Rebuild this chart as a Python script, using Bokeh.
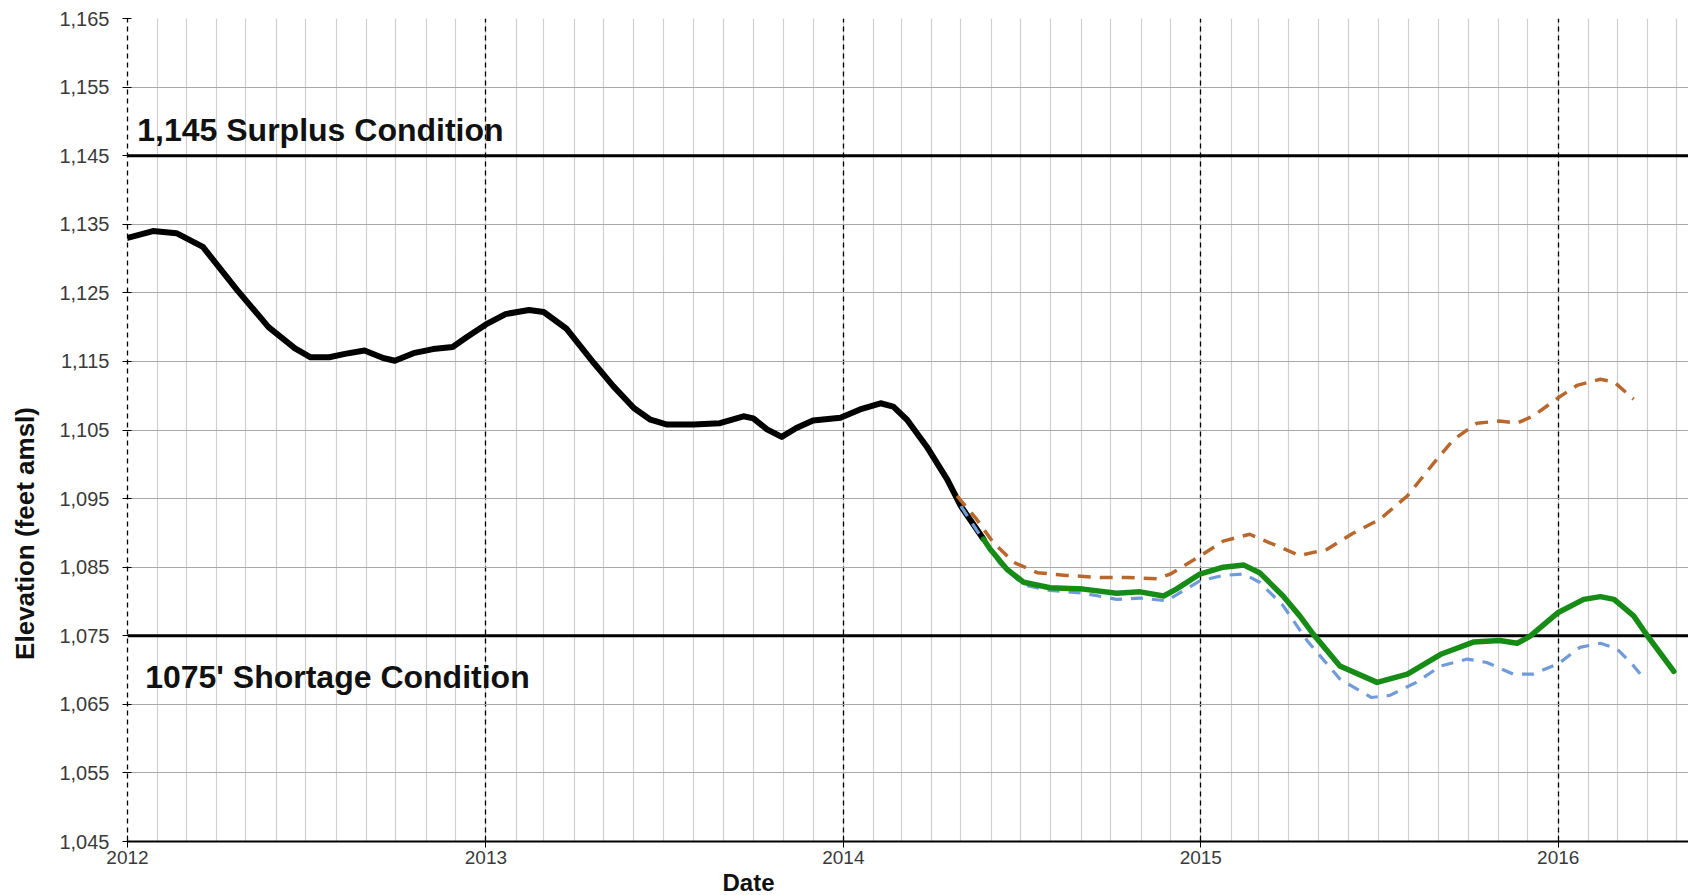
import math
import pandas as pd
from bokeh.plotting import figure
from bokeh.layouts import row
from bokeh.models import (Range1d, FixedTicker, NumeralTickFormatter, Span, Label, Title,
                          Grid, MonthsTicker, DatetimeTickFormatter, ColumnDataSource)
from bokeh.embed import file_html
from bokeh.resources import INLINE

# ---------------- data ----------------
y_ticks = [1045, 1055, 1065, 1075, 1085, 1095, 1105, 1115, 1125, 1135, 1145, 1155, 1165]
year_ticks = ["2012-01-01", "2013-01-01", "2014-01-01", "2015-01-01", "2016-01-01"]
surplus_level = 1145
shortage_level = 1075

obs_dates = ["2012-01-01", "2012-01-27", "2012-02-20", "2012-03-18", "2012-04-22", "2012-05-24",
             "2012-06-20", "2012-07-06", "2012-07-25", "2012-08-10", "2012-08-30", "2012-09-18",
             "2012-09-30", "2012-10-19", "2012-11-08", "2012-11-28", "2012-12-13", "2013-01-01",
             "2013-01-21", "2013-02-14", "2013-03-01", "2013-03-24", "2013-04-21", "2013-05-11",
             "2013-06-01", "2013-06-18", "2013-07-05", "2013-08-01", "2013-08-28", "2013-09-21",
             "2013-10-01", "2013-10-15", "2013-10-30", "2013-11-14", "2013-12-01", "2013-12-29",
             "2014-01-18", "2014-02-08", "2014-02-21", "2014-03-07", "2014-03-27", "2014-04-17",
             "2014-05-01", "2014-05-24"]
obs_vals = [1133.0, 1134.0, 1133.7, 1131.7, 1125.4, 1120.0, 1116.9, 1115.6, 1115.6, 1116.1,
            1116.6, 1115.5, 1115.1, 1116.2, 1116.8, 1117.1, 1118.6, 1120.4, 1121.9, 1122.5,
            1122.2, 1119.8, 1114.8, 1111.4, 1108.2, 1106.5, 1105.8, 1105.8, 1106.0, 1107.0,
            1106.7, 1105.1, 1104.0, 1105.3, 1106.4, 1106.8, 1108.0, 1108.9, 1108.4, 1106.5,
            1102.6, 1097.8, 1093.9, 1089.1]

most_dates = ["2014-05-24", "2014-05-31", "2014-06-17", "2014-07-04", "2014-07-31", "2014-09-03",
              "2014-10-07", "2014-10-31", "2014-11-24", "2014-12-07", "2014-12-31", "2015-01-24",
              "2015-02-14", "2015-03-02", "2015-03-26", "2015-04-12", "2015-04-26", "2015-05-23",
              "2015-06-30", "2015-07-31", "2015-09-03", "2015-10-07", "2015-11-02", "2015-11-20",
              "2015-12-03", "2016-01-01", "2016-01-27", "2016-02-13", "2016-02-27", "2016-03-18",
              "2016-04-01", "2016-04-28"]
most_vals = [1089.1, 1087.6, 1084.7, 1082.8, 1082.0, 1081.8, 1081.2, 1081.4, 1080.8, 1081.8,
             1084.0, 1085.0, 1085.3, 1084.2, 1080.8, 1077.9, 1075.2, 1070.6, 1068.2, 1069.4,
             1072.3, 1074.1, 1074.3, 1073.9, 1074.9, 1078.4, 1080.3, 1080.7, 1080.3, 1077.9,
             1075.0, 1069.8]

min_dates = ["2014-05-01", "2014-05-24", "2014-06-10", "2014-07-04", "2014-07-31", "2014-09-03",
             "2014-10-07", "2014-10-31", "2014-11-27", "2014-12-31", "2015-01-24", "2015-02-14",
             "2015-03-02", "2015-03-26", "2015-04-20", "2015-05-23", "2015-06-24", "2015-07-13",
             "2015-08-09", "2015-09-03", "2015-09-30", "2015-10-20", "2015-11-16", "2015-12-06",
             "2016-01-01", "2016-01-23", "2016-02-13", "2016-03-01", "2016-03-18", "2016-03-30"]
min_vals = [1093.9, 1088.9, 1085.5, 1082.4, 1081.6, 1081.2, 1080.3, 1080.5, 1080.1, 1083.0,
            1083.8, 1084.0, 1082.8, 1079.4, 1074.2, 1068.7, 1066.0, 1066.3, 1068.2, 1070.6,
            1071.6, 1071.1, 1069.4, 1069.4, 1070.9, 1073.3, 1073.9, 1073.1, 1070.6, 1068.5]

max_dates = ["2014-04-27", "2014-05-17", "2014-06-03", "2014-06-24", "2014-07-18", "2014-08-17",
             "2014-09-20", "2014-10-18", "2014-11-17", "2014-12-01", "2014-12-31", "2015-01-24",
             "2015-02-20", "2015-03-23", "2015-04-12", "2015-05-10", "2015-06-05", "2015-07-03",
             "2015-07-31", "2015-08-27", "2015-09-16", "2015-10-10", "2015-11-02", "2015-11-20",
             "2015-12-06", "2016-01-01", "2016-01-20", "2016-02-13", "2016-02-27", "2016-03-18"]
max_vals = [1095.4, 1092.0, 1088.6, 1085.7, 1084.2, 1083.8, 1083.5, 1083.5, 1083.3, 1084.0,
            1086.6, 1088.8, 1089.8, 1087.9, 1086.7, 1087.6, 1089.9, 1092.0, 1095.4, 1100.2,
            1103.6, 1106.0, 1106.3, 1106.0, 1107.0, 1109.7, 1111.5, 1112.4, 1112.0, 1109.5]

# ---------------- figure ----------------
FONT = "Liberation Sans"
x_start = pd.Timestamp("2012-01-01")
x_end = pd.Timestamp("2016-05-13")
TITLE_W = 50

# narrow strip holding the rotated y-axis title
side = figure(width=TITLE_W, height=895, output_backend="svg", toolbar_location=None,
              x_range=Range1d(0, TITLE_W), y_range=Range1d(0, 895),
              min_border=0, x_axis_location=None, y_axis_location=None)
side.outline_line_color = None
side.xgrid.visible = False
side.ygrid.visible = False
side.add_layout(Label(x=24, y=335, angle=math.pi / 2, text="Elevation (feet amsl)",
                      text_font=FONT, text_font_style="bold", text_font_size="26px",
                      text_color="#111111", text_align="center", text_baseline="middle"))

p = figure(width=1688 - TITLE_W, height=895, output_backend="svg", toolbar_location=None,
           x_axis_type="datetime",
           x_range=Range1d(x_start, x_end), y_range=Range1d(1045, 1165),
           min_border_left=127 - TITLE_W, min_border_right=0, min_border_top=18,
           min_border_bottom=5)
p.outline_line_color = None
p.background_fill_color = "white"
p.border_fill_color = "white"

# y axis (its line doubles as the dashed 2012 year line)
p.yaxis.ticker = FixedTicker(ticks=y_ticks)
p.yaxis.formatter = NumeralTickFormatter(format="0,0")
p.yaxis.axis_line_color = "black"
p.yaxis.axis_line_dash = "5 4"
p.yaxis.axis_line_width = 1.3
p.yaxis.major_tick_in = 4
p.yaxis.major_tick_out = 5
p.yaxis.major_tick_line_color = "black"
p.yaxis.major_tick_line_width = 1.2
p.yaxis.minor_tick_line_color = None
p.yaxis.major_label_standoff = 13
p.yaxis.major_label_text_font = FONT
p.yaxis.major_label_text_font_size = "20px"
p.yaxis.major_label_text_color = "#3a3a3a"
p.ygrid.grid_line_color = "#a8a8a8"
p.ygrid.grid_line_width = 1.2

# x axis (year ticks, dashed yearly gridlines)
year_ms = [pd.Timestamp(d).value / 1e6 for d in year_ticks]
p.xaxis.ticker = FixedTicker(ticks=year_ms)
p.xaxis.formatter = DatetimeTickFormatter(years="%Y", months="%Y", days="%Y", hours="%Y")
p.xaxis.axis_line_color = "black"
p.xaxis.axis_line_width = 2
p.xaxis.major_tick_in = 6
p.xaxis.major_tick_out = 6
p.xaxis.major_tick_line_color = "black"
p.xaxis.minor_tick_line_color = None
p.xaxis.major_label_standoff = 3
p.xaxis.major_label_text_font = FONT
p.xaxis.major_label_text_font_size = "19px"
p.xaxis.major_label_text_color = "#3a3a3a"
p.xgrid.grid_line_color = "black"
p.xgrid.grid_line_dash = "5 4"
p.xgrid.grid_line_width = 1.3

# monthly light vertical gridlines (drawn beneath the others)
month_grid = Grid(dimension=0, ticker=MonthsTicker(months=list(range(12))),
                  grid_line_color="#cfcfcf", grid_line_width=1.2)
p.center.insert(0, month_grid)

# x-axis title, placed off-centre like the reference
p.add_layout(Title(text="Date", align="left", offset=595, standoff=0,
                   text_font=FONT, text_font_style="bold", text_font_size="24px",
                   text_color="#111111"), "below")

# threshold lines
for lvl in (surplus_level, shortage_level):
    p.add_layout(Span(location=lvl, dimension="width", line_color="black",
                      line_width=3, level="underlay"))

# series
def src(dates, vals):
    return ColumnDataSource(dict(x=pd.to_datetime(dates), y=vals))

p.line("x", "y", source=src(obs_dates, obs_vals), line_color="black", line_width=6,
       line_join="round", line_cap="round")
p.line("x", "y", source=src(min_dates, min_vals), line_color="#6f9bd8", line_width=3.2,
       line_dash="12 9", line_join="round")
p.line("x", "y", source=src(max_dates, max_vals), line_color="#b8682c", line_width=3.5,
       line_dash="13 9", line_join="round")
p.line("x", "y", source=src(most_dates, most_vals), line_color="#168c16", line_width=5.5,
       line_join="round", line_cap="round")

# threshold texts
p.add_layout(Label(x=pd.Timestamp("2012-01-11"), y=1148.8, text="1,145 Surplus Condition",
                   text_font=FONT, text_font_style="bold", text_font_size="32px",
                   text_color="#111111", text_baseline="alphabetic"))
p.add_layout(Label(x=pd.Timestamp("2012-01-19"), y=1069.05, text="1075' Shortage Condition",
                   text_font=FONT, text_font_style="bold", text_font_size="32px",
                   text_color="#111111", text_baseline="alphabetic"))

layout = row(side, p)
open("out.html", "w").write(file_html(layout, INLINE))
